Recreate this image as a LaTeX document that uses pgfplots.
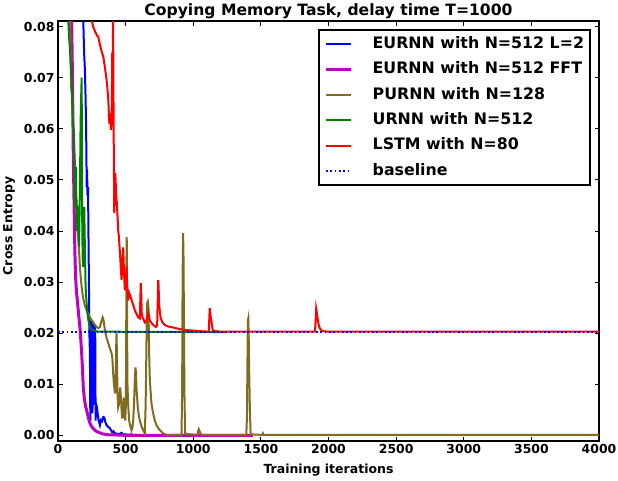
\documentclass[border=0pt]{standalone}
\usepackage{fontspec}
\setmainfont{DejaVu Sans}
\usepackage{pgfplots}
\pgfplotsset{compat=1.18}
\definecolor{cblue}{rgb}{0,0,1}
\definecolor{cmag}{rgb}{0.75,0,0.75}
\definecolor{colive}{RGB}{128,108,32}
\definecolor{cgreen}{rgb}{0,0.5,0}
\definecolor{cred}{rgb}{1,0,0}
\begin{document}
\begin{tikzpicture}
\useasboundingbox (-58pt,-39pt) rectangle (560pt,441pt);
\begin{axis}[
  at={(0pt,0pt)}, anchor=south west,
  scale only axis, width=541pt, height=420pt,
  xmin=0, xmax=4000, ymin=-0.0011, ymax=0.0811,
  xtick={0,500,1000,1500,2000,2500,3000,3500,4000},
  ytick={0,0.01,0.02,0.03,0.04,0.05,0.06,0.07,0.08},
  scaled y ticks=false,
  yticklabel style={/pgf/number format/.cd, fixed, fixed zerofill, precision=2},
  xticklabel style={/pgf/number format/.cd, set thousands separator={}},
  /pgf/number format/assume math mode=true,
  tick align=inside, tick pos=both, major tick length=4.5pt,
  tick style={line width=1pt, black},
  axis line style={line width=2pt},
  ticklabel style={font=\fontsize{12.4}{14}\selectfont\bfseries},
  title={Copying Memory Task, delay time T=1000},
  every axis title shift=0pt,
  title style={font=\fontsize{15.6}{18}\selectfont\bfseries, at={(axis description cs:0.5,1)}, anchor=base, yshift=6pt},
  xlabel={Training iterations}, ylabel={Cross Entropy},
  xlabel style={font=\fontsize{12.5}{14}\selectfont\bfseries, at={(axis description cs:0.5,-0.069)}, anchor=center},
  ylabel style={font=\fontsize{12.5}{14}\selectfont\bfseries, at={(axis description cs:-0.0906,0.512)}, anchor=center},
  legend cell align=left,
  legend image code/.code={\draw[#1] (0pt,0pt) -- (25pt,0pt);},
  legend style={at={(axis description cs:0.9852,0.981)}, anchor=north east,
    draw=black, line width=2pt, inner xsep=6pt, inner ysep=6.75pt,
    font=\fontsize{15.8}{18}\selectfont\bfseries,
    nodes={inner sep=0pt, text height=11.6pt, text depth=3pt},
    row sep=10.8pt, column sep=20pt},
]
\addplot[cblue, line width=2pt] coordinates {
(170,0.110) (187,0.081) (193,0.075) (199,0.0715) (204,0.066) (207,0.0617) (210,0.055) (212,0.0486) (215,0.052) (218,0.047) (222,0.0486) (225,0.040) (229,0.029) (232,0.020) (236,0.0161) (239,0.0029) (242,0.012) (245,0.021) (249,0.0225) (251,0.012) (253,0.0043) (257,0.006) (261,0.0219) (264,0.010) (268,0.0094) (272,0.006) (275,0.0215) (278,0.0029) (283,0.006) (288,0.0055) (293,0.0043) (300,0.0030) (305,0.0025) (310,0.0020) (318,0.0030) (326,0.0028) (335,0.0036) (342,0.0035) (350,0.0026) (359,0.0020) (370,0.0017) (384,0.0014) (392,0.0010) (401,0.0006) (410,0.0008) (421,0.0004) (440,0.0003) (458,0.0003) (470,0.0005) (480,0.0002) (500,0.0002) (520,0.0001) (540,0.0002) (560,0.0001) (583,0.0001)
};
\addlegendentry{EURNN with N=512 L=2}
\addplot[cmag, line width=3pt] coordinates {
(90,0.12) (101,0.0812) (107,0.070) (113,0.0552) (119,0.045) (125,0.0357) (130,0.031) (137,0.028) (145,0.0259) (153,0.0235) (162,0.0212) (168,0.019) (175,0.0161) (181,0.013) (187,0.0094) (195,0.0072) (203,0.0058) (212,0.0049) (224,0.0035) (236,0.0024) (250,0.0017) (262,0.0013) (273,0.0010) (290,0.0007) (310,0.0005) (330,0.0003) (347,0.0002) (380,0.0001) (420,0.0001) (500,0.0000) (1440,0.0000)
};
\addlegendentry{EURNN with N=512 FFT}
\addplot[colive, line width=2pt] coordinates {
(70,0.120) (89,0.0812) (97,0.0682) (105,0.066) (113,0.0611) (119,0.057) (125,0.0533) (131,0.049) (138,0.0455) (144,0.042) (150,0.0388) (156,0.036) (162,0.033) (168,0.031) (175,0.029) (185,0.027) (194,0.0259) (203,0.025) (212,0.0245) (224,0.0238) (236,0.0231) (248,0.0226) (261,0.0221) (273,0.0216) (285,0.0212) (298,0.0210) (310,0.0212) (322,0.0225) (330,0.0231) (335,0.0228) (341,0.0218) (347,0.0205) (360,0.0190) (372,0.0180) (384,0.0170) (396,0.0161) (402,0.0150) (408,0.0121) (414,0.0100) (421,0.0082) (427,0.0120) (431,0.0185) (433,0.0200) (436,0.0150) (440,0.0080) (445,0.0055) (450,0.0060) (455,0.0080) (460,0.0094) (465,0.0075) (470,0.0050) (474,0.0035) (477,0.0035) (482,0.0060) (487,0.0074) (492,0.0045) (497,0.0029) (502,0.0060) (505,0.0250) (507,0.0388) (509,0.0380) (511,0.0200) (514,0.0094) (519,0.0060) (526,0.0029) (535,0.0018) (544,0.0010) (550,0.0015) (556,0.0029) (562,0.0060) (568,0.0110) (573,0.0133) (577,0.0120) (581,0.0090) (585,0.0074) (590,0.0055) (597,0.0040) (605,0.0029) (617,0.0018) (630,0.0010) (642,0.0004) (647,0.0050) (650,0.0094) (655,0.0200) (659,0.0259) (664,0.0262) (669,0.0251) (674,0.0160) (679,0.0108) (685,0.0085) (691,0.0063) (700,0.0048) (708,0.0038) (716,0.0029) (728,0.0020) (741,0.0014) (758,0.0009) (777,0.0004) (802,0.0001) (913,0.0001) (916,0.0050) (918,0.0094) (921,0.0300) (925,0.0396) (928,0.0350) (932,0.0192) (935,0.0080) (940,0.0003) (1030,0.0001) (1036,0.0008) (1041,0.0012) (1047,0.0008) (1055,0.0003) (1065,0.0001) (1392,0.0001) (1397,0.0035) (1401,0.0150) (1404,0.0225) (1407,0.0229) (1411,0.0180) (1414,0.0121) (1418,0.0060) (1424,0.0002) (1510,0.0001) (1515,0.0004) (1520,0.0001) (4000,0.0001)
};
\addlegendentry{PURNN with N=128}
\addplot[cgreen, line width=2pt] coordinates {
(60,0.120) (76,0.0812) (82,0.078) (89,0.0754) (95,0.072) (101,0.0696) (108,0.063) (113,0.0600) (118,0.0590) (122,0.0520) (125,0.0447) (128,0.0480) (133,0.0525) (137,0.0400) (142,0.0450) (146,0.0420) (150,0.0427) (154,0.0370) (157,0.0396) (162,0.0480) (167,0.0610) (170,0.0650) (175,0.0700) (178,0.0450) (182,0.0350) (186,0.0330) (190,0.0400) (194,0.0447) (198,0.0380) (204,0.0290) (210,0.0265) (215,0.0245) (222,0.0230) (229,0.0220) (236,0.0212) (245,0.0208) (261,0.0206) (280,0.0204) (300,0.0203) (1245,0.0202)
};
\addlegendentry{URNN with N=512}
\addplot[cred, line width=2pt] coordinates {
(230,0.100) (249,0.0813) (260,0.0800) (275,0.0790) (290,0.0782) (298,0.0780) (310,0.0765) (322,0.0752) (335,0.0741) (347,0.0720) (359,0.0696) (365,0.0680) (372,0.0656) (376,0.0631) (380,0.0610) (385,0.0630) (391,0.0598) (395,0.0610) (398,0.0650) (401,0.0748) (404,0.0700) (406,0.0830) (408,0.0780) (411,0.0617) (414,0.0500) (416,0.0435) (419,0.0460) (423,0.0513) (426,0.0500) (430,0.0470) (435,0.0455) (440,0.0430) (445,0.0402) (450,0.0390) (458,0.0357) (464,0.0330) (470,0.0304) (476,0.0340) (482,0.0368) (488,0.0320) (494,0.0284) (500,0.0300) (507,0.0330) (512,0.0290) (519,0.0264) (524,0.0280) (532,0.0275) (544,0.0265) (556,0.0255) (568,0.0245) (580,0.0238) (593,0.0231) (605,0.0229) (609,0.0270) (612,0.0298) (615,0.0280) (619,0.0240) (625,0.0231) (634,0.0226) (642,0.0221) (655,0.0225) (667,0.0239) (672,0.0235) (679,0.0225) (691,0.0220) (704,0.0216) (714,0.0214) (723,0.0212) (733,0.0215) (737,0.0260) (741,0.0304) (744,0.0290) (748,0.0255) (758,0.0231) (770,0.0222) (790,0.0216) (815,0.0213) (839,0.0212) (870,0.0210) (900,0.0208) (950,0.0206) (1000,0.0205) (1050,0.0204) (1114,0.0203) (1118,0.0225) (1122,0.0249) (1126,0.0240) (1130,0.0230) (1134,0.0225) (1140,0.0212) (1146,0.0205) (1200,0.0203) (1900,0.0203) (1905,0.0225) (1909,0.0248) (1914,0.0240) (1920,0.0228) (1926,0.0218) (1935,0.0210) (1945,0.0206) (1960,0.0204) (2000,0.0203) (4000,0.0203)
};
\addlegendentry{LSTM with N=80}
\addplot[cblue, line width=2pt, dash pattern=on 1.7pt off 2.6pt] coordinates {(0,0.0203) (4000,0.0203)};
\addlegendentry{baseline}
\end{axis}
\end{tikzpicture}
\end{document}
